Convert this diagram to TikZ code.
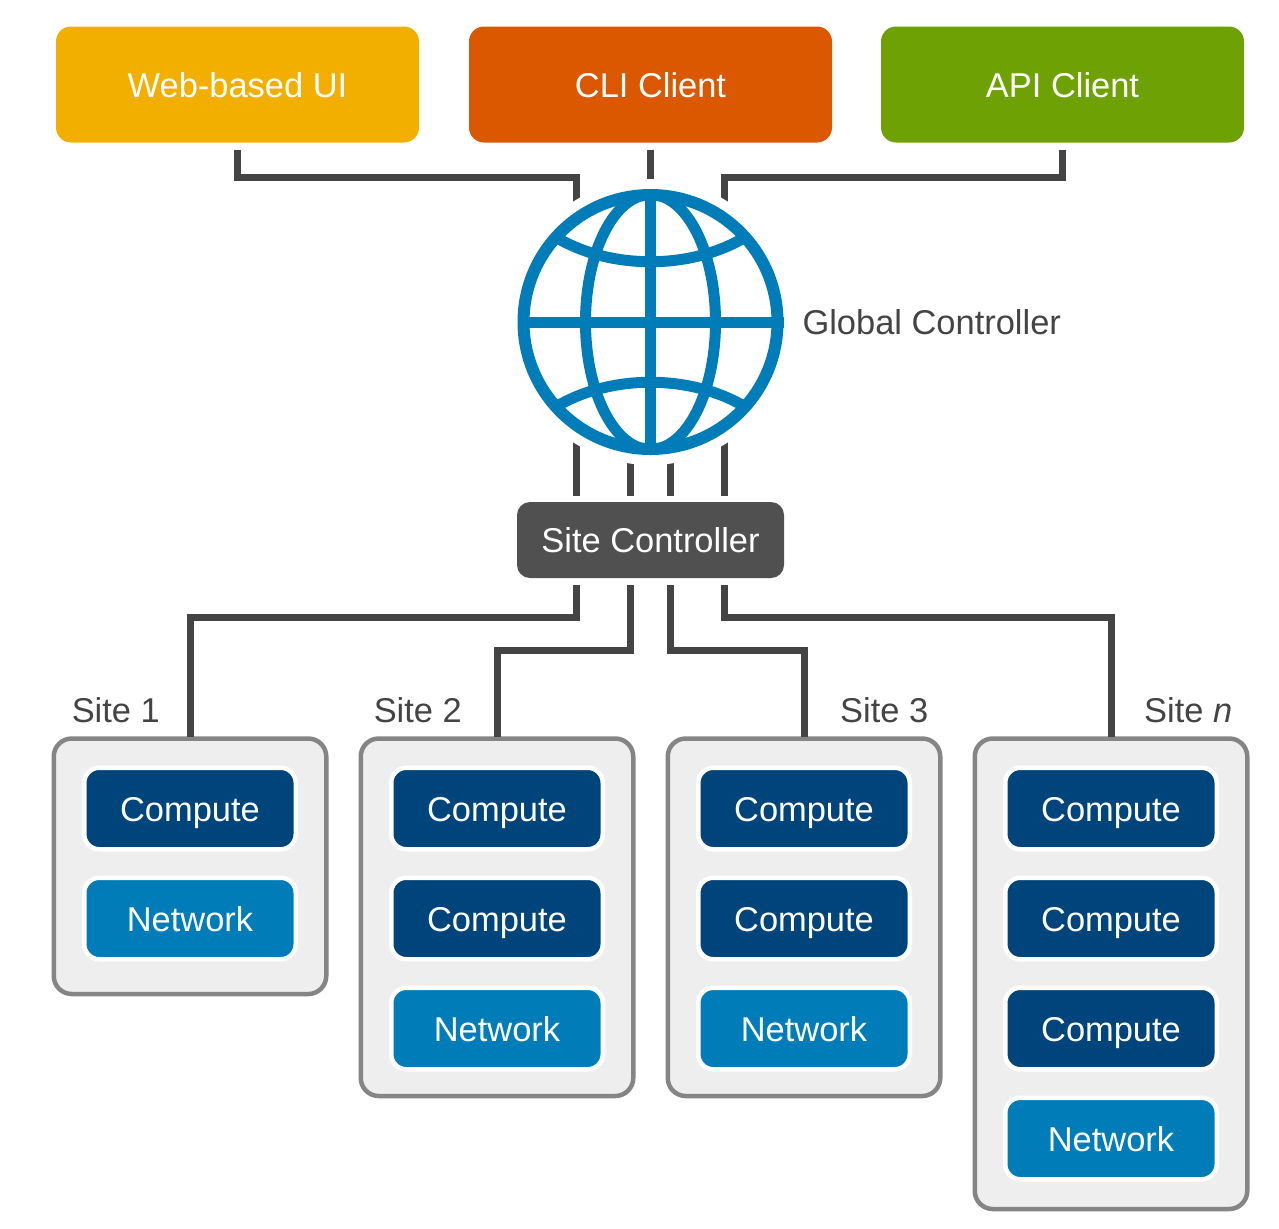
\documentclass[tikz,border=0pt]{standalone}
\usepackage{fontspec}
\setmainfont{Liberation Sans}
\usetikzlibrary{positioning}
\definecolor{cweb}{HTML}{F2AF00}
\definecolor{ccli}{HTML}{DB5800}
\definecolor{capi}{HTML}{6EA204}
\definecolor{ccomp}{HTML}{00447C}
\definecolor{cnet}{HTML}{007DB8}
\definecolor{cgris}{HTML}{444444}
\definecolor{cctl}{HTML}{505050}
\definecolor{cborde}{HTML}{858585}
\definecolor{cfondo}{HTML}{EEEEEE}
\begin{document}
\begin{tikzpicture}
\tikzset{
    cliente/.style={rectangle, rounded corners=0.3cm, minimum width=7.26cm, minimum height=2.32cm,
                    inner sep=0pt, outer sep=0pt, text=white, text height=0.5cm, text depth=0cm,
                    font=\fontsize{19.6}{24}\selectfont},
    control/.style={cliente, fill=cctl, minimum width=5.34cm, minimum height=1.52cm, rounded corners=0.26cm},
    sitio/.style={rectangle, draw=cborde, fill=cfondo, line width=0.09cm, rounded corners=0.36cm,
                  minimum width=5.45cm, inner sep=0pt, outer sep=0pt},
    bloque/.style={rectangle, draw=white, line width=0.09cm, rounded corners=0.3cm, minimum width=4.23cm,
                   minimum height=1.63cm, inner sep=0pt, outer sep=0pt, text=white, text height=0.5cm,
                   text depth=0cm, font=\fontsize{19.6}{24}\selectfont},
    compute/.style={bloque, fill=ccomp},
    network/.style={bloque, fill=cnet},
    linea/.style={draw=cgris, line width=0.14cm, shorten <=0.14cm},
    mundo/.style={draw=cnet, line width=0.22cm},
    etiqueta/.style={inner sep=0pt, outer sep=0pt, text=cgris, font=\fontsize{19.6}{24}\selectfont}
}
\useasboundingbox (0,0) rectangle (25.58,-24.56);

\node[cliente, fill=cweb] (bweb) at (4.75,-1.69) {Web-based UI};
\node[cliente, fill=ccli, right=1cm of bweb] (bcli) {CLI Client};
\node[cliente, fill=capi, right=0.98cm of bcli] (bapi) {API Client};

\node[circle, minimum size=5.32cm, inner sep=0pt, outer sep=0pt, below=0.93cm of bcli] (globo) {};
\node[etiqueta, right=0.38cm of globo] (lglobo) {Global Controller};
\node[control, below=0.94cm of globo] (bctl) {Site Controller};

\coordinate (g1) at ([xshift=-1.48cm]globo.center);
\coordinate (g2) at ([xshift=-0.4cm]globo.center);
\coordinate (g3) at ([xshift=0.4cm]globo.center);
\coordinate (g4) at ([xshift=1.48cm]globo.center);

\node[sitio, anchor=north, minimum height=5.11cm] (s1) at (3.8,-14.77) {};
\node[sitio, right=0.69cm of s1.north east, anchor=north west, minimum height=7.15cm] (s2) {};
\node[sitio, right=0.69cm of s2.north east, anchor=north west, minimum height=7.15cm] (s3) {};
\node[sitio, right=0.69cm of s3.north east, anchor=north west, minimum height=9.41cm] (sn) {};

\node[etiqueta, above right=0.31cm and 0.36cm of s1.north west] (l1) {Site 1};
\node[etiqueta, above right=0.31cm and 0.26cm of s2.north west] (l2) {Site 2};
\node[etiqueta, above left=0.31cm and 0.24cm of s3.north east] (l3) {Site 3};
\node[etiqueta, above left=0.31cm and 0.3cm of sn.north east] (ln) {Site \textit{n}};

\node[compute, below=0.585cm of s1.north] (c11) {Compute};
\node[network, below=0.57cm of c11] (n1) {Network};

\node[compute, below=0.585cm of s2.north] (c21) {Compute};
\node[compute, below=0.57cm of c21] (c22) {Compute};
\node[network, below=0.57cm of c22] (n2) {Network};

\node[compute, below=0.585cm of s3.north] (c31) {Compute};
\node[compute, below=0.57cm of c31] (c32) {Compute};
\node[network, below=0.57cm of c32] (n3) {Network};

\node[compute, below=0.585cm of sn.north] (c41) {Compute};
\node[compute, below=0.57cm of c41] (c42) {Compute};
\node[compute, below=0.57cm of c42] (c43) {Compute};
\node[network, below=0.57cm of c43] (n4) {Network};

\draw[linea] (bweb.south) -- ++(0,-0.7) -| (g1);
\draw[linea] (bcli.south) -- (globo.center);
\draw[linea] (bapi.south) -- ++(0,-0.7) -| (g4);

\draw[linea, shorten >=0.12cm] (g1) -- (g1 |- bctl.north);
\draw[linea, shorten >=0.12cm] (g2) -- (g2 |- bctl.north);
\draw[linea, shorten >=0.12cm] (g3) -- (g3 |- bctl.north);
\draw[linea, shorten >=0.12cm] (g4) -- (g4 |- bctl.north);

\draw[linea, shorten >=0.04cm] (g1 |- bctl.south) -- ++(0,-0.78) -| (s1.north);
\draw[linea, shorten >=0.04cm] (g2 |- bctl.south) -- ++(0,-1.44) -| (s2.north);
\draw[linea, shorten >=0.04cm] (g3 |- bctl.south) -- ++(0,-1.44) -| (s3.north);
\draw[linea, shorten >=0.04cm] (g4 |- bctl.south) -- ++(0,-0.78) -| (sn.north);

\fill[white] (globo.center) circle (2.86cm);
\draw[mundo, line width=0.24cm] (globo.center) circle (2.54cm);
\draw[mundo] (globo.center) ellipse (1.3cm and 2.55cm);
\draw[mundo] (globo.north) -- (globo.south);
\draw[mundo] (globo.west) -- (globo.east);
\draw[mundo] ([shift={(-1.9,1.7)}]globo.center) .. controls +(1.1,-0.66) and +(-1.1,-0.66) .. ([shift={(1.9,1.7)}]globo.center);
\draw[mundo] ([shift={(-1.9,-1.7)}]globo.center) .. controls +(1.1,0.66) and +(-1.1,0.66) .. ([shift={(1.9,-1.7)}]globo.center);

\end{tikzpicture}
\end{document}
